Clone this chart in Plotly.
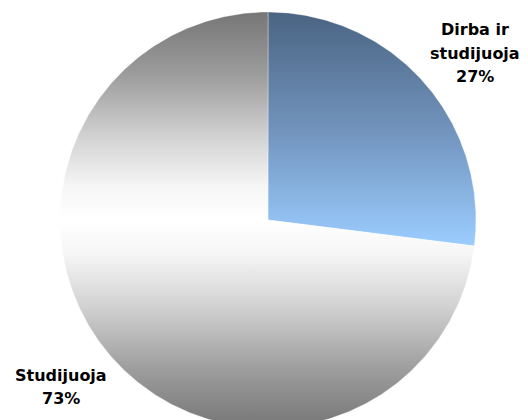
import numpy as np
import plotly.graph_objects as go

# Slice data (clockwise from 12 o'clock)
labels = [["Dirba ir", "studijuoja"], ["Studijuoja"]]
values = [27, 73]
colorscales = [
    [[0.0, "#4a6482"], [0.5, "#7193bc"], [1.0, "#9bcdff"]],
    [[0.0, "#767676"], [0.15, "#9c9c9c"], [0.3, "#d2d2d2"], [0.42, "#f6f6f6"],
     [0.5, "#ffffff"], [0.58, "#f6f6f6"], [0.7, "#d4d4d4"], [0.85, "#a0a0a0"],
     [1.0, "#767676"]],
]

# Pie geometry in plot coordinates (y grows downward)
cx, cy, r = 268.0, 220.0, 208.0
label_dist = 1.28
label_turn = np.deg2rad(2.6)
line_step = 23.5

fig = go.Figure()
total = float(sum(values))
start = 0.0
for lab, val, cs in zip(labels, values, colorscales):
    frac = val / total
    theta = np.linspace(start, start + frac, 400) * 2 * np.pi
    xs = np.concatenate([[cx], cx + r * np.sin(theta), [cx]])
    ys = np.concatenate([[cy], cy - r * np.cos(theta), [cy]])
    grad_stop = float(ys.max()) if frac < 0.5 else cy + r
    fig.add_trace(go.Scatter(
        x=xs, y=ys, mode="lines", fill="toself",
        line=dict(color="rgba(255,255,255,0.35)", width=1),
        fillgradient=dict(type="vertical", colorscale=cs,
                          start=cy - r, stop=grad_stop),
        hoverinfo="skip", showlegend=False,
    ))
    # outside label along the slice bisector, one annotation per text line
    mid = (start + frac / 2) * 2 * np.pi + label_turn
    lx = cx + label_dist * r * np.sin(mid)
    ly = cy - label_dist * r * np.cos(mid)
    lines = lab + [f"{val}%"]
    for i, txt in enumerate(lines):
        fig.add_annotation(
            x=lx, y=ly + (i - (len(lines) - 1) / 2) * line_step,
            text=f"<b>{txt}</b>", showarrow=False,
            font=dict(family="DejaVu Sans", size=16, color="#000000"),
            align="center", xanchor="center", yanchor="middle",
        )
    start += frac

fig.update_xaxes(range=[0, 528], visible=False, fixedrange=True)
fig.update_yaxes(range=[420, 0], visible=False, fixedrange=True)
fig.update_layout(
    width=528, height=420,
    margin=dict(l=0, r=0, t=0, b=0),
    paper_bgcolor="white", plot_bgcolor="white",
)

fig.write_html("out.html")
